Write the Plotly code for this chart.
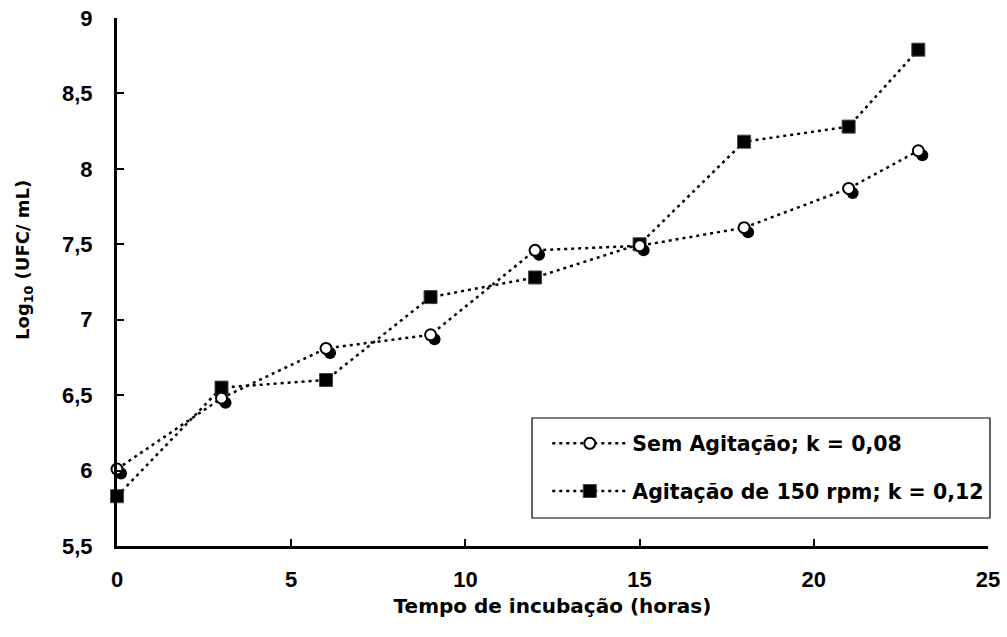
import plotly.graph_objects as go

# Incubation time (hours) and log10 counts for each condition
horas = [0, 3, 6, 9, 12, 15, 18, 21, 23]
sem_agitacao = [6.01, 6.48, 6.81, 6.90, 7.46, 7.49, 7.61, 7.87, 8.12]
agitacao_150 = [5.83, 6.55, 6.60, 7.15, 7.28, 7.50, 8.18, 8.28, 8.79]

nome_sem = "Sem Agitação; k = 0,08"
nome_agit = "Agitação de 150 rpm; k = 0,12"

y_ticks = [5.5, 6, 6.5, 7, 7.5, 8, 8.5, 9]
y_ticktext = ["5,5", "6", "6,5", "7", "7,5", "8", "8,5", "9"]
x_ticks = [0, 5, 10, 15, 20, 25]
x_ticktext = ["0", "5", "10", "15", "20", "25"]

TICK_FONT = "Liberation Sans, Arial, sans-serif"
TEXT_FONT = "DejaVu Sans, Verdana, sans-serif"
DASH = "3px,4px"

fig = go.Figure()

# Stirred culture: filled squares on the main axes
fig.add_trace(go.Scatter(
    x=horas, y=agitacao_150, name=nome_agit, mode="lines+markers",
    line=dict(color="black", width=2.5, dash=DASH),
    marker=dict(symbol="square", size=13, color="black",
                line=dict(color="#444", width=1)),
    cliponaxis=False, xaxis="x", yaxis="y",
    legendrank=2, legendgroup="agit",
))

# Drop shadow for the open circles, on a slightly offset overlay axis pair
fig.add_trace(go.Scatter(
    x=horas, y=sem_agitacao, mode="markers", showlegend=False,
    marker=dict(symbol="circle", size=12, color="black"),
    cliponaxis=False, xaxis="x2", yaxis="y2", hoverinfo="skip",
))

# Non-stirred culture: open circles drawn above the shadow
fig.add_trace(go.Scatter(
    x=horas, y=sem_agitacao, name=nome_sem, mode="lines+markers",
    line=dict(color="black", width=2.5, dash=DASH),
    marker=dict(symbol="circle", size=11, color="white",
                line=dict(color="black", width=2)),
    cliponaxis=False, xaxis="x3", yaxis="y3",
    legendrank=1, legendgroup="sem",
))

X_RANGE = [0, 25]
Y_RANGE = [5.5, 9]
dx, dy = 0.115, 0.03

hidden = dict(visible=False, showgrid=False, zeroline=False, fixedrange=True)

fig.update_layout(
    width=1007, height=637,
    margin=dict(l=117, r=19, t=18, b=91, autoexpand=False),
    paper_bgcolor="white", plot_bgcolor="white",
    font=dict(family=TEXT_FONT, size=18, color="black"),
    xaxis=dict(
        range=X_RANGE, tickvals=x_ticks, ticktext=x_ticktext,
        showline=True, linecolor="black", linewidth=3,
        ticks="inside", ticklen=7, tickwidth=2, tickcolor="black",
        showgrid=False, zeroline=False, ticklabelstandoff=12, automargin=False,
        tickfont=dict(family=TICK_FONT, size=22, color="black", weight="bold"),
        title=dict(text="<b>Tempo de incubação (horas)</b>",
                   font=dict(family=TEXT_FONT, size=20), standoff=8),
    ),
    yaxis=dict(
        range=Y_RANGE, tickvals=y_ticks, ticktext=y_ticktext,
        showline=True, linecolor="black", linewidth=3,
        ticks="inside", ticklen=7, tickwidth=2, tickcolor="black",
        showgrid=False, zeroline=False, ticklabelstandoff=17, automargin=False,
        tickfont=dict(family=TICK_FONT, size=22, color="black", weight="bold"),
    ),
    xaxis2=dict(range=[X_RANGE[0] - dx, X_RANGE[1] - dx], overlaying="x", **hidden),
    yaxis2=dict(range=[Y_RANGE[0] + dy, Y_RANGE[1] + dy], overlaying="y", **hidden),
    xaxis3=dict(range=X_RANGE, overlaying="x", **hidden),
    yaxis3=dict(range=Y_RANGE, overlaying="y", **hidden),
    # y-axis title, sitting a little above the middle of the axis
    annotations=[dict(
        text="<b>Log<sub>10</sub> (UFC/ mL)</b>", textangle=-90,
        xref="paper", yref="paper", x=-0.1068, y=0.5417,
        xanchor="center", yanchor="middle", showarrow=False,
        font=dict(family=TEXT_FONT, size=18, color="black"),
    )],
    legend=dict(
        x=0.494, y=0.232, xanchor="left", yanchor="top",
        bgcolor="rgba(0,0,0,0)", borderwidth=0,
        font=dict(family=TEXT_FONT, size=20.5, color="black", weight="bold"),
        itemwidth=75, tracegroupgap=18,
    ),
    # frame around the legend entries
    shapes=[dict(
        type="rect", xref="paper", yref="paper",
        x0=0.4765, x1=1.0023, y0=0.053, y1=0.2424,
        line=dict(color="black", width=1.2), fillcolor="white", layer="below",
    )],
    showlegend=True,
)

fig.write_html("out.html")
